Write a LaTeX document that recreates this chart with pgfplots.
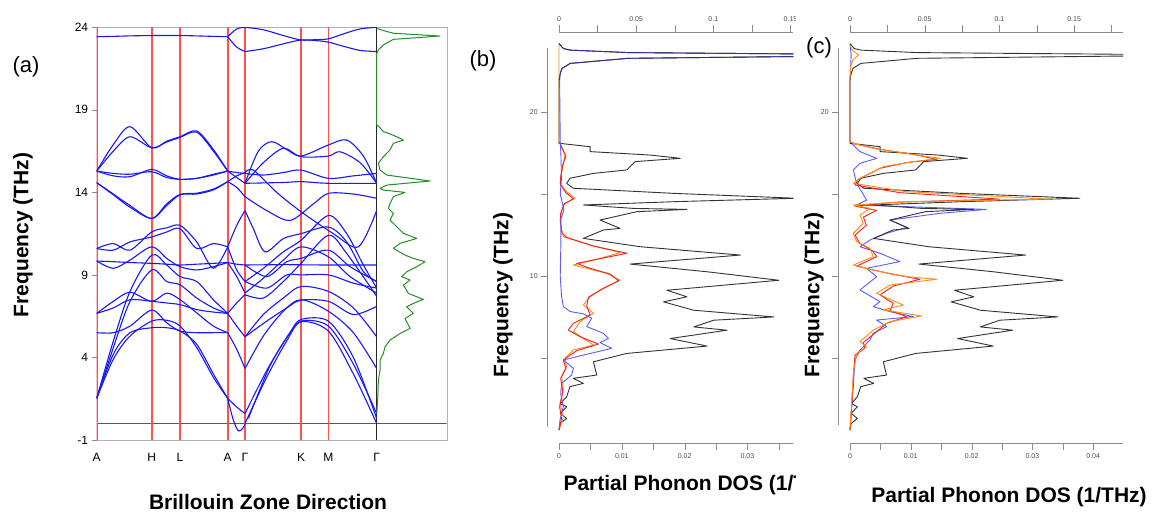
\documentclass[border=0pt]{standalone}
\usepackage{fontspec}
\setmainfont{Liberation Sans}
\setsansfont{Liberation Sans}
\usepackage{pgfplots}
\usepackage{pgfplotstable}
\pgfplotsset{compat=1.18}
\pgfplotsset{/pgf/number format/assume math mode=true}

\definecolor{bandblue}{RGB}{25,25,245}
\definecolor{zred}{RGB}{255,80,80}
\definecolor{dosgreen}{RGB}{40,140,40}
\definecolor{pblue}{RGB}{90,90,255}
\definecolor{pred}{RGB}{245,30,30}
\definecolor{porange}{RGB}{255,140,20}
\definecolor{navy2}{RGB}{45,45,150}
\definecolor{axgray}{RGB}{140,140,140}

\pgfplotsset{band/.style={bandblue, line width=1.1pt, smooth, tension=0.5, mark=none}}
\pgfplotsset{dos/.style={line width=0.9pt, mark=none, line join=round}}
\pgfplotsset{zline/.style={zred, line width=1.7pt, mark=none}}

% total phonon DOS (shared by panels b and c)
\pgfplotstableread{
x f
0 24.2
0.0007 23.9
0.0018 23.8
0.011 23.65
0.06 23.5
0.011 23.3
0.0018 22.99
0.0005 22.69
0.0002 22.38
0 21.98
0 18.11
0.00495 17.90
0.00495 17.60
0.01452 17.39
0.01931 17.19
0.01213 16.99
0.0108 16.48
0.00548 16.27
0.00176 15.97
0.00122 15.66
0.00229 15.36
0.01824 15.05
0.0378 14.75
0.01824 14.54
0.00388 14.34
0.01186 14.13
0.02037 14.07
0.01239 13.93
0.00654 13.42
0.00973 12.91
0.00707 12.81
0.00388 12.30
0.01293 11.79
0.02888 11.28
0.01133 10.73
0.02356 10.26
0.0350 9.74
0.01718 9.13
0.02037 8.73
0.01665 8.42
0.02144 7.91
0.0342 7.50
0.02463 7.30
0.02144 6.89
0.02676 6.69
0.01771 6.18
0.02356 5.72
0.0108 5.27
0.00548 4.76
0.00601 3.95
0.00229 3.75
0.00388 3.44
0.00176 3.24
0.00122 2.62
0.0002 2.21
0.00122 2.01
0.0002 1.61
0.00122 1.30
0.0002 0.99
0 0.59
}\totaldos

\begin{document}
\begin{tikzpicture}[x=1pt,y=1pt]
\useasboundingbox (0,0) rectangle (1162,513);

%================ panel (a) =================
\begin{axis}[at={(96.7pt,73pt)}, anchor=south west, scale only axis,
  width=350pt, height=412.7pt,
  xmin=290, xmax=1340, ymin=-1, ymax=24,
  xtick={290,455,540,683,735,903,985,1130},
  xticklabels={A,H,L,A,Γ,K,M,Γ},
  xtick style={draw=none},
  ytick={-1,4,9,14,19,24}, ytick pos=left,
  tick align=outside, major tick length=5pt,
  axis line style={gray!60},
  ytick style={axgray},
  tick label style={font=\fontsize{12}{14}\selectfont},
  xticklabel style={yshift=-5pt},
]
\addplot[black!65, line width=1pt] coordinates {(290,0) (1340,0)};
\addplot[zline] coordinates {(291,-1) (291,24)};
\addplot[zline] coordinates {(455,-1) (455,24)};
\addplot[zline] coordinates {(540,-1) (540,24)};
\addplot[zline] coordinates {(683,-1) (683,24)};
\addplot[zline] coordinates {(735,-1) (735,24)};
\addplot[zline] coordinates {(903,-1) (903,24)};
\addplot[zline] coordinates {(985,-1) (985,24)};
\addplot[black!85, line width=1.3pt] coordinates {(1130,-1) (1130,24)};
% ---- segment A-H-L-A
\addplot[band] coordinates {(290,23.43)(340,23.45)(390,23.48)(455,23.5)(500,23.5)(540,23.5)(590,23.48)(640,23.45)(683,23.43)};
\addplot[band] coordinates {(290,15.29)(340,16.9)(390,17.98)(455,16.7)(500,17.1)(540,17.37)(590,17.72)(640,16.6)(683,15.29)};
\addplot[band] coordinates {(290,15.29)(340,16.5)(390,17.37)(455,16.7)(500,17.05)(540,17.33)(590,17.65)(640,16.5)(683,15.29)};
\addplot[band] coordinates {(290,15.29)(340,15.0)(390,14.95)(455,15.39)(500,15.0)(540,14.79)(590,14.85)(640,15.05)(683,15.29)};
\addplot[band] coordinates {(290,15.29)(340,15.15)(390,15.1)(455,15.25)(500,14.9)(540,14.79)(590,14.85)(640,15.1)(683,15.29)};
\addplot[band] coordinates {(290,14.59)(340,13.9)(390,13.2)(455,12.42)(500,13.3)(540,13.88)(590,13.95)(640,14.2)(683,14.65)};
\addplot[band] coordinates {(290,14.59)(340,13.85)(390,13.1)(455,12.42)(500,13.2)(540,13.85)(590,13.9)(640,14.15)(683,14.65)};
\addplot[band] coordinates {(290,10.6)(340,10.9)(390,10.5)(455,11.6)(500,11.85)(540,12.0)(590,11.0)(640,9.4)(683,10.7)};
\addplot[band] coordinates {(290,10.6)(340,10.5)(390,11.0)(455,11.3)(500,11.6)(540,11.8)(590,10.6)(640,10.9)(683,10.7)};
\addplot[band] coordinates {(290,9.84)(340,9.8)(390,9.75)(455,9.7)(500,9.65)(540,9.6)(590,9.65)(640,9.7)(683,9.75)};
\addplot[band] coordinates {(290,9.84)(340,9.4)(390,9.9)(455,10.7)(500,10.0)(540,9.5)(590,9.3)(640,9.5)(683,9.75)};
\addplot[band] coordinates {(290,1.52)(340,5.0)(390,8.0)(455,10.2)(500,9.6)(540,8.9)(590,8.6)(640,7.5)(683,6.67)};
\addplot[band] coordinates {(290,1.52)(340,4.6)(390,7.4)(455,9.3)(500,8.6)(540,8.4)(590,7.6)(640,7.0)(683,6.67)};
\addplot[band] coordinates {(290,6.67)(340,7.4)(390,7.95)(455,7.4)(500,7.9)(540,7.5)(590,6.7)(640,5.9)(683,5.5)};
\addplot[band] coordinates {(290,6.67)(340,7.0)(390,7.5)(455,7.4)(500,7.3)(540,7.2)(590,6.9)(640,6.75)(683,6.67)};
\addplot[band] coordinates {(290,5.5)(340,5.5)(390,5.9)(455,6.87)(500,6.1)(540,5.6)(590,5.5)(640,5.5)(683,5.5)};
\addplot[band] coordinates {(290,1.52)(340,4.2)(390,5.5)(455,5.8)(500,5.8)(540,5.6)(590,4.8)(640,3.0)(683,1.52)};
\addplot[band] coordinates {(290,1.52)(340,3.9)(390,5.3)(455,6.2)(500,6.25)(540,5.9)(590,4.6)(640,2.8)(683,1.52)};
% ---- segment A-Gamma
\addplot[band] coordinates {(683,23.43)(710,23.9)(735,24.0)};
\addplot[band] coordinates {(683,23.43)(710,22.8)(735,22.53)};
\addplot[band] coordinates {(683,15.29)(710,14.9)(735,14.55)};
\addplot[band] coordinates {(683,15.29)(710,15.2)(735,15.15)};
\addplot[band] coordinates {(683,14.65)(710,14.3)(735,13.74)};
\addplot[band] coordinates {(683,14.65)(710,15.0)(735,15.2)};
\addplot[band] coordinates {(683,10.7)(710,12.0)(735,12.9)};
\addplot[band] coordinates {(683,10.7)(710,9.3)(735,8.6)};
\addplot[band] coordinates {(683,9.75)(710,9.65)(735,9.6)};
\addplot[band] coordinates {(683,9.75)(710,8.9)(735,7.9)};
\addplot[band] coordinates {(683,6.67)(710,7.3)(735,7.8)};
\addplot[band] coordinates {(683,6.67)(710,5.9)(735,5.25)};
\addplot[band] coordinates {(683,5.5)(710,4.5)(735,3.33)};
\addplot[band] coordinates {(683,1.52)(710,1.0)(735,0.6)};
\addplot[band] coordinates {(683,1.52)(700,0.2)(715,-0.45)(728,-0.3)(735,0.0)};
% ---- segment Gamma-K-M-Gamma
\addplot[band] coordinates {(735,24.0)(790,23.85)(850,23.5)(903,23.23)(945,23.25)(985,23.3)(1030,23.6)(1080,23.9)(1130,24.0)};
\addplot[band] coordinates {(735,22.53)(790,22.7)(850,23.0)(903,23.23)(945,23.2)(985,23.1)(1030,22.85)(1080,22.6)(1130,22.53)};
\addplot[band] coordinates {(735,14.55)(775,16.5)(815,17.07)(860,16.6)(903,16.2)(985,16.87)(1040,17.17)(1090,16.2)(1130,14.55)};
\addplot[band] coordinates {(735,14.55)(790,15.8)(850,16.67)(903,16.16)(985,16.2)(1020,16.46)(1080,15.8)(1130,14.55)};
\addplot[band] coordinates {(735,15.15)(790,15.05)(850,15.2)(903,15.35)(985,14.85)(1060,15.0)(1130,15.15)};
\addplot[band] coordinates {(735,14.55)(850,14.6)(903,14.65)(985,14.55)(1130,14.55)};
\addplot[band] coordinates {(735,15.2)(760,15.35)(830,14.0)(903,12.83)(1000,11.5)(1075,10.7)(1130,12.9)};
\addplot[band] coordinates {(735,13.74)(800,12.9)(870,12.3)(940,13.3)(985,13.94)(1060,13.9)(1130,13.64)};
\addplot[band] coordinates {(735,12.9)(760,11.8)(795,10.4)(850,11.2)(903,11.5)(985,11.9)(1040,11.0)(1090,9.2)(1130,8.6)};
\addplot[band] coordinates {(735,8.6)(790,9.4)(850,10.4)(903,11.1)(985,12.6)(1040,11.5)(1090,9.6)(1130,8.2)};
\addplot[band] coordinates {(735,9.6)(850,9.62)(985,9.6)(1130,9.6)};
\addplot[band] coordinates {(735,7.9)(790,8.8)(850,9.9)(903,10.7)(985,10.1)(1050,8.9)(1130,7.9)};
\addplot[band] coordinates {(735,7.8)(790,7.6)(850,8.6)(903,9.7)(985,11.4)(1040,10.3)(1130,7.7)};
\addplot[band] coordinates {(735,9.6)(800,8.9)(860,9.8)(903,10.0)(985,10.5)(1050,9.5)(1130,8.6)};
\addplot[band] coordinates {(735,8.6)(800,8.2)(860,9.0)(903,9.0)(985,9.0)(1060,8.5)(1130,8.2)};
\addplot[band] coordinates {(735,5.25)(790,6.6)(850,7.6)(903,8.3)(985,8.0)(1060,7.0)(1130,5.25)};
\addplot[band] coordinates {(735,5.25)(800,6.2)(860,7.0)(903,7.47)(985,7.4)(1060,6.6)(1130,7.1)};
\addplot[band] coordinates {(735,3.33)(790,5.3)(850,6.8)(903,7.5)(985,6.8)(1060,5.5)(1130,3.33)};
\addplot[band] coordinates {(735,0.6)(800,3.2)(860,5.2)(903,6.2)(985,5.9)(1060,3.6)(1130,0.6)};
\addplot[band] coordinates {(735,0.0)(800,2.8)(860,5.0)(903,6.16)(985,5.6)(1060,3.0)(1130,0.0)};
\addplot[band] coordinates {(745,0.3)(810,3.5)(870,5.5)(903,6.3)(985,6.2)(1060,4.0)(1130,0.3)};
% ---- total DOS (green)
\addplot[dosgreen, line width=1pt, mark=none, line join=round] coordinates {
(1130,23.94)(1150,23.80)(1180,23.64)(1320,23.47)(1180,23.27)(1150,22.93)(1135,22.63)(1130,22.42)
(1130,18.08)(1135,18.02)(1150,17.68)(1165,17.58)(1190,17.37)(1210,17.17)(1180,16.97)(1170,16.57)
(1150,16.16)(1135,15.76)(1140,15.35)(1160,15.05)(1290,14.69)(1160,14.44)(1140,14.24)(1150,14.14)
(1215,14.0)(1180,13.74)(1170,13.33)(1165,13.03)(1180,12.73)(1170,12.32)(1190,11.92)(1210,11.52)
(1250,11.21)(1200,10.91)(1180,10.61)(1215,10.20)(1240,10.0)(1275,9.80)(1250,9.49)(1220,9.19)
(1205,8.89)(1230,8.69)(1210,8.38)(1225,7.88)(1270,7.52)(1240,7.27)(1220,7.07)(1240,6.67)
(1215,6.36)(1230,5.76)(1200,5.45)(1170,5.05)(1155,4.65)(1150,4.24)(1140,3.84)(1140,3.23)
(1135,2.63)(1133,1.41)(1130,0.61)};
\end{axis}

\node[font=\fontsize{22}{26}\selectfont] at (26,446) {(a)};
\node[rotate=90, font=\bfseries\fontsize{21}{25}\selectfont] at (23,278) {Frequency (THz)};
\node[font=\bfseries\fontsize{21}{25}\selectfont] at (268,11) {Brillouin Zone Direction};

%================ panel (b) =================
\begin{axis}[at={(547.3pt,69.7pt)}, anchor=south west, scale only axis,
  width=246pt, height=411pt, hide axis,
  xmin=-0.00186, xmax=0.0373, ymin=-0.22, ymax=24.89]
\addplot[dos, black!80] table[x=x, y=f] {\totaldos};
\addplot[dos, porange] coordinates {(0,24.2)(0,18.2)(0.00016,18.11)(0.00096,17.43)(0.00069,16.88)(0.00043,16.27)(0.00016,15.66)(0.00122,15.15)(0.00255,14.75)(0.00096,14.44)(0.00043,14.03)(0.00016,13.42)(0.00043,12.81)(0.00069,12.40)(0.00495,11.89)(0.00973,11.43)(0.00654,11.08)(0.00229,10.67)(0.00441,10.47)(0.00761,10.16)(0.00973,9.75)(0.00707,9.25)(0.00495,8.74)(0.00388,8.23)(0.00548,7.72)(0.00335,7.21)(0.00229,6.60)(0.00388,6.19)(0.00548,5.78)(0.00229,5.48)(0.00096,4.97)(0.00122,4.46)(0.00043,3.85)(0.00069,3.03)(0.00016,2.21)(0.00069,1.40)(0,0.59)};
\addplot[dos, pred] coordinates {(0,18.2)(0.00027,18.0)(0.0011,17.33)(0.0006,16.78)(0.00027,16.07)(0.00027,15.56)(0.0011,15.09)(0.00229,14.72)(0.0008,14.40)(0.00027,13.8)(0.00027,13.2)(0.0005,12.6)(0.00122,12.36)(0.00548,11.83)(0.0108,11.39)(0.00601,11.02)(0.00282,10.77)(0.00495,10.47)(0.00814,10.12)(0.00947,9.71)(0.0068,9.19)(0.00468,8.70)(0.00441,8.17)(0.00495,7.62)(0.00229,7.11)(0.00149,6.70)(0.00335,6.29)(0.00628,5.84)(0.00282,5.44)(0.00069,4.87)(0.0011,4.36)(0.00027,3.75)(0.0006,2.93)(0.0001,2.01)(0.0004,1.3)(0,0.59)};
\addplot[dos, pblue] coordinates {(0.0001,21.98)(0.0002,18.2)(0.0003,17.5)(0.0004,16.0)(0.0002,15.0)(0.0008,14.05)(0.0003,13.5)(0.0003,12.0)(0.0002,10.0)(0.0004,8.8)(0.00069,8.14)(0.00176,7.83)(0.00388,7.69)(0.00521,7.42)(0.00441,6.91)(0.00707,6.50)(0.00787,6.19)(0.00654,5.93)(0.0084,5.58)(0.00388,5.17)(0.00069,4.87)(0.00229,4.36)(0.00202,3.95)(0.00043,3.44)(0.00027,2.83)(0.00069,2.01)(0.00016,1.2)(0,0.59)};
\addplot[dos, navy2] coordinates {(0,24.2)(0.0007,23.9)(0.0018,23.8)(0.011,23.65)(0.06,23.5)(0.011,23.3)(0.0018,22.99)(0.0005,22.69)(0.0002,22.38)(0.0001,21.98)};
\end{axis}
% bottom axis (b)
\begin{axis}[at={(559pt,69.7pt)}, anchor=south west, scale only axis,
  width=234.3pt, height=20pt, xmin=0, xmax=0.0373, ymin=0, ymax=1,
  axis x line*=bottom, hide y axis, axis line style={-, axgray, line width=0.8pt},
  xtick={0,0.01,0.02,0.03}, xticklabels={0,0.01,0.02,0.03},
  minor xtick={0.005,0.015,0.025,0.035}, scaled x ticks=false,
  tick align=outside, major tick length=7pt, minor tick length=7pt,
  tick style={axgray}, tick label style={font=\fontsize{7}{8}\selectfont, gray!60!black}]
\end{axis}
% top axis (b)
\begin{axis}[at={(559pt,460.7pt)}, anchor=south west, scale only axis,
  width=234.3pt, height=20pt, xmin=0, xmax=0.1518, ymin=0, ymax=1,
  axis x line*=top, hide y axis, axis line style={-, axgray, line width=0.8pt},
  xtick={0,0.05,0.1,0.15}, xticklabels={0,0.05,0.1,0.15},
  minor xtick={0.025,0.075,0.125}, scaled x ticks=false,
  tick align=outside, major tick length=7pt, minor tick length=7pt,
  tick style={axgray}, tick label style={font=\fontsize{7}{8}\selectfont, gray!60!black}]
\end{axis}
% left axis (b)
\begin{axis}[at={(547.3pt,86.3pt)}, anchor=south west, scale only axis,
  width=20pt, height=378.4pt, xmin=0, xmax=1, ymin=0.79, ymax=23.91,
  axis y line*=left, hide x axis, axis line style={-, axgray, line width=0.8pt},
  ytick={5,10,15,20}, yticklabels={,10,,20},
  tick align=outside, major tick length=6pt,
  tick style={axgray}, tick label style={font=\fontsize{7}{8}\selectfont, gray!60!black}]
\end{axis}
\node[font=\fontsize{22}{26}\selectfont] at (483,452) {(b)};
\node[rotate=90, font=\bfseries\fontsize{21}{25}\selectfont] at (503,218) {Frequency (THz)};
\node[anchor=west, inner sep=0pt, font=\bfseries\fontsize{21}{25}\selectfont] at (563.3,28) {Partial Phonon DOS (1/THz)};

% panel (b) is cut at the right edge in the reference
\fill[white] (796,0) rectangle (1162,513);

%================ panel (c) =================
\begin{axis}[at={(838.3pt,69.7pt)}, anchor=south west, scale only axis,
  width=285pt, height=411pt, hide axis,
  xmin=-0.00192, xmax=0.04495, ymin=-0.22, ymax=24.89]
\addplot[dos, pblue] coordinates {(0,24.2)(0.0002,23.5)(0,22)(0,18.2)(0.00055,18.0)(0.00164,17.6)(0.00438,17.19)(0.00164,16.88)(0.00055,16.48)(0.0011,15.66)(0.00274,14.64)(0.0011,14.34)(0.02247,14.07)(0.01479,13.83)(0.00658,13.42)(0.00932,12.97)(0.00603,12.61)(0.00329,12.20)(0.00164,11.79)(0.00493,11.39)(0.00822,10.88)(0.00274,10.47)(0.00438,9.96)(0.00164,9.15)(0.00493,8.43)(0.00384,8.13)(0.00658,7.82)(0.01041,7.52)(0.00438,7.31)(0.00603,6.91)(0.00384,6.50)(0.00329,6.09)(0.00164,5.48)(0.00082,4.87)(0.00055,3.24)(0,0.59)};
\addplot[dos, black!80] table[x=x, y=f] {\totaldos};
\addplot[dos, pred] coordinates {(0,18.2)(0.00082,18.07)(0.00493,17.74)(0.01041,17.43)(0.01425,17.13)(0.00932,16.93)(0.00493,16.58)(0.00137,15.91)(0.00082,15.56)(0.00822,15.09)(0.02466,14.70)(0.00712,14.50)(0.00082,14.27)(0.00438,14.01)(0.0022,13.6)(0.0027,13.1)(0.00082,12.5)(0.0016,12.0)(0.0038,11.5)(0.00438,11.18)(0.0011,10.6)(0.00658,10.14)(0.01151,9.80)(0.00712,9.39)(0.00493,8.84)(0.00712,8.33)(0.00658,7.89)(0.00932,7.52)(0.00603,7.11)(0.00438,6.60)(0.00219,5.93)(0.00247,5.58)(0.00082,5.17)(0.00055,3.85)(0.00027,2.01)(0,0.59)};
\addplot[dos, porange] coordinates {(0,24.1)(0.0004,23.8)(0.0014,23.5)(0.0005,23.2)(0.0001,22.8)(0,22)(0,18.2)(0.00055,18.11)(0.00384,17.80)(0.00932,17.49)(0.01205,17.33)(0.01479,17.19)(0.01041,16.99)(0.00548,16.68)(0.00164,15.97)(0.00055,15.66)(0.00932,15.15)(0.03288,14.70)(0.00932,14.54)(0.00055,14.34)(0.00329,14.13)(0.00164,13.73)(0.00219,13.22)(0.00055,12.61)(0.0011,12.10)(0.00329,11.69)(0.00384,11.18)(0.00055,10.67)(0.00493,10.27)(0.00932,9.96)(0.01425,9.80)(0.00658,9.45)(0.00438,8.94)(0.00877,8.23)(0.00548,7.93)(0.01178,7.56)(0.00658,7.21)(0.00384,6.70)(0.00164,5.99)(0.00274,5.68)(0.0011,5.27)(0.00055,4.05)(0.00027,2.21)(0,0.59)};
\end{axis}
% bottom axis (c)
\begin{axis}[at={(850pt,69.7pt)}, anchor=south west, scale only axis,
  width=273.3pt, height=20pt, xmin=0, xmax=0.04495, ymin=0, ymax=1,
  axis x line*=bottom, hide y axis, axis line style={-, axgray, line width=0.8pt},
  xtick={0,0.01,0.02,0.03,0.04}, xticklabels={0,0.01,0.02,0.03,0.04},
  minor xtick={0.005,0.015,0.025,0.035,0.045}, scaled x ticks=false,
  tick align=outside, major tick length=7pt, minor tick length=7pt,
  tick style={axgray}, tick label style={font=\fontsize{7}{8}\selectfont, gray!60!black}]
\end{axis}
% top axis (c)
\begin{axis}[at={(850pt,460.7pt)}, anchor=south west, scale only axis,
  width=273.3pt, height=20pt, xmin=0, xmax=0.1829, ymin=0, ymax=1,
  axis x line*=top, hide y axis, axis line style={-, axgray, line width=0.8pt},
  xtick={0,0.05,0.1,0.15}, xticklabels={0,0.05,0.1,0.15},
  minor xtick={0.025,0.075,0.125,0.175}, scaled x ticks=false,
  tick align=outside, major tick length=7pt, minor tick length=7pt,
  tick style={axgray}, tick label style={font=\fontsize{7}{8}\selectfont, gray!60!black}]
\end{axis}
% left axis (c)
\begin{axis}[at={(838.3pt,88pt)}, anchor=south west, scale only axis,
  width=20pt, height=376.7pt, xmin=0, xmax=1, ymin=0.898, ymax=23.91,
  axis y line*=left, hide x axis, axis line style={-, axgray, line width=0.8pt},
  ytick={5,10,15,20}, yticklabels={,,,20},
  tick align=outside, major tick length=6pt,
  tick style={axgray}, tick label style={font=\fontsize{7}{8}\selectfont, gray!60!black}]
\end{axis}
\node[font=\fontsize{22}{26}\selectfont] at (819,465) {(c)};
\node[rotate=90, font=\bfseries\fontsize{21}{25}\selectfont] at (814,218) {Frequency (THz)};
\node[font=\bfseries\fontsize{21}{25}\selectfont] at (1009,16) {Partial Phonon DOS (1/THz)};
\end{tikzpicture}
\end{document}
